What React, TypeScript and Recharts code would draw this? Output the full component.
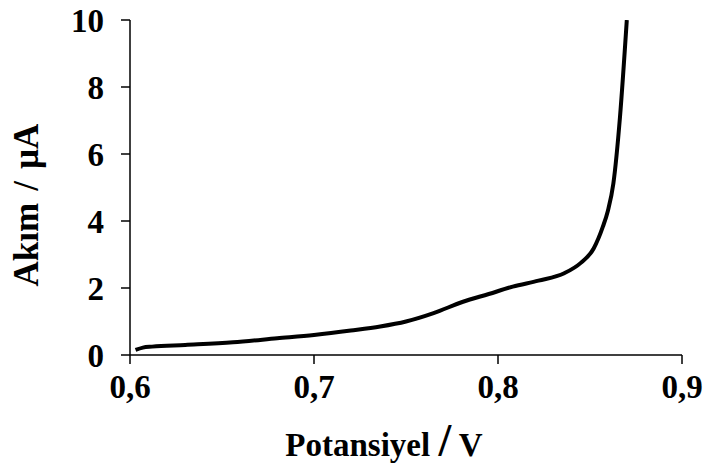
import React from "react";
import { LineChart, Line, XAxis, YAxis, Label } from "recharts";

// Potential (V) vs current (µA)
const potential = [
  0.603, 0.607, 0.612, 0.63, 0.656, 0.68, 0.7, 0.72, 0.736, 0.75, 0.765,
  0.781, 0.795, 0.808, 0.822, 0.836, 0.845, 0.852, 0.857, 0.8597, 0.8627,
  0.8663, 0.87,
];
const current = [
  0.15, 0.22, 0.25, 0.3, 0.38, 0.5, 0.6, 0.73, 0.85, 1.0, 1.25, 1.59, 1.82,
  2.04, 2.22, 2.44, 2.75, 3.18, 3.83, 4.3, 5.12, 7.11, 10,
];
const xTicks = [0.6, 0.7, 0.8, 0.9];
const yTicks = [0, 2, 4, 6, 8, 10];

const data = potential.map((v, i) => ({ v, a: current[i] }));

const font = '"Liberation Serif", "Times New Roman", serif';
const tickStyle = { fill: "#000", fontSize: 33, fontWeight: "bold", fontFamily: font };

const XTitle = (props: any) => {
  const vb = props.viewBox;
  const cx = vb.x + vb.width / 2 - 22;
  return (
    <text x={cx} y={456} textAnchor="middle" fontFamily={font} fontWeight="bold" fill="#000">
      <tspan fontSize={33}>Potansiyel </tspan>
      <tspan fontSize={46}>/</tspan>
      <tspan fontSize={33}> V</tspan>
    </text>
  );
};

const YTitle = () => {
  const x = 38;
  const y = 205;
  return (
    <text
      x={x}
      y={y}
      transform={`rotate(-90, ${x}, ${y})`}
      textAnchor="middle"
      fontFamily={font}
      fontWeight="bold"
      fontSize={35}
      fill="#000"
    >
      <tspan>Akım</tspan>
      <tspan dx={12}>/</tspan>
      <tspan dx={12}>µA</tspan>
    </text>
  );
};

export default function App() {
  return (
    <div style={{ position: "absolute", left: 0, top: 0, background: "#fff" }}>
      <LineChart
        width={704}
        height={465}
        data={data}
        margin={{ top: 20, right: 22, bottom: 0, left: 0 }}
      >
        <XAxis
          dataKey="v"
          type="number"
          domain={[0.6, 0.9]}
          ticks={xTicks}
          allowDataOverflow
          tickFormatter={(t: number) => t.toFixed(1).replace(".", ",")}
          height={110}
          tickSize={9}
          tickMargin={11}
          stroke="#000"
          axisLine={{ stroke: "#000", strokeWidth: 1.5 }}
          tickLine={{ stroke: "#000", strokeWidth: 1.5 }}
          tick={tickStyle}
        >
          <Label content={XTitle} />
        </XAxis>
        <YAxis
          type="number"
          domain={[0, 10]}
          ticks={yTicks}
          allowDataOverflow
          width={130}
          tickSize={9}
          tickMargin={17}
          stroke="#000"
          axisLine={{ stroke: "#000", strokeWidth: 1.5 }}
          tickLine={{ stroke: "#000", strokeWidth: 1.5 }}
          tick={tickStyle}
        >
          <Label content={YTitle} />
        </YAxis>
        <Line
          type="monotone"
          dataKey="a"
          stroke="#000"
          strokeWidth={4}
          dot={false}
          isAnimationActive={false}
        />
      </LineChart>
    </div>
  );
}
